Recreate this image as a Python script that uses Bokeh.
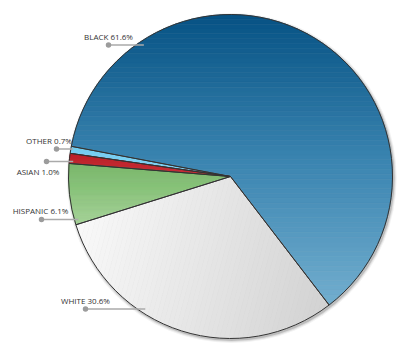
import numpy as np
from bokeh.plotting import figure
from bokeh.models import Range1d, ColumnDataSource
from bokeh.core.properties import value
from bokeh.embed import file_html
from bokeh.resources import INLINE

# ---- data (counter-clockwise order, starting at the Black/White boundary) ----
categories = ["BLACK", "OTHER", "ASIAN", "HISPANIC", "WHITE"]
shares = [61.6, 0.7, 1.0, 6.1, 30.6]

# ---- layout / style ----
W, H = 406, 352
CX, CY, R = 230.0, H - 176.0, 162.0
START_DEG = -52.5

# gradient: (direction angle in degrees, list of colour stops)
gradients = {
    "BLACK": (-90, ["#065284", "#3a84b0", "#72aecf"]),
    "OTHER": (-90, ["#72cdf1", "#86d6f5"]),
    "ASIAN": (-90, ["#bb2228", "#c8313a"]),
    "HISPANIC": (-90, ["#76b767", "#a4d396"]),
    "WHITE": (-15, ["#f9f9f9", "#e6e6e6", "#d2d2d2"]),
}
# label layout in screen pixels: dot x, line y, text centre x, text centre y, line inset
label_layout = {
    "BLACK": (108, 44.5, 108, 35.5, 8),
    "OTHER": (56, 148.5, 48.5, 139.5, 2),
    "ASIAN": (46, 161, 37.5, 170.5, 4),
    "HISPANIC": (41, 219, 40, 209.5, 4),
    "WHITE": (85, 308.5, 85, 299.5, 8),
}


def hex2rgb(h):
    h = h.lstrip("#")
    return np.array([int(h[i:i + 2], 16) for i in (0, 2, 4)], dtype=float)


def lerp_stops(stops, f):
    f = min(max(f, 0.0), 1.0)
    cols = [hex2rgb(s) for s in stops]
    n = len(cols) - 1
    pos = f * n
    i = min(int(pos), n - 1)
    t = pos - i
    c = cols[i] * (1 - t) + cols[i + 1] * t
    return "#%02x%02x%02x" % tuple(int(round(v)) for v in c)


def clip_half(pts, u, t, keep_ge):
    out = []
    n = len(pts)
    for i in range(n):
        P = pts[i]
        Q = pts[(i + 1) % n]
        fp = P[0] * u[0] + P[1] * u[1] - t
        fq = Q[0] * u[0] + Q[1] * u[1] - t
        if not keep_ge:
            fp, fq = -fp, -fq
        if fp >= 0:
            out.append(P)
        if (fp >= 0) != (fq >= 0):
            s = fp / (fp - fq)
            out.append((P[0] + s * (Q[0] - P[0]), P[1] + s * (Q[1] - P[1])))
    return out


fr = np.array(shares) / sum(shares)
ends = START_DEG + np.cumsum(fr) * 360.0
starts = ends - fr * 360.0

p = figure(width=W, height=H, output_backend="svg", toolbar_location=None,
           x_range=Range1d(0, W), y_range=Range1d(0, H),
           x_axis_type=None, y_axis_type=None, min_border=0,
           outline_line_color=None, background_fill_color="white",
           border_fill_color="white")
p.grid.visible = False

# soft shadow
for dr, a in [(3.0, 0.05), (2.0, 0.08), (1.0, 0.15)]:
    p.circle(x=[CX + 1.2], y=[CY - 1.5], radius=R + dr, fill_color="black",
             fill_alpha=a, line_color=None)

# gradient-filled slices made of thin clipped bands
bx, by, bc = [], [], []
for cat, a0, a1 in zip(categories, starts, ends):
    ang = np.radians(np.linspace(a0, a1, max(int((a1 - a0) / 0.5), 2) + 1))
    poly = [(CX, CY)] + [(CX + R * np.cos(t), CY + R * np.sin(t)) for t in ang]
    gdeg, stops = gradients[cat]
    u = (np.cos(np.radians(gdeg)), np.sin(np.radians(gdeg)))
    proj = [q[0] * u[0] + q[1] * u[1] for q in poly]
    tmin, tmax = min(proj), max(proj)
    nb = 60
    edges = np.linspace(tmin, tmax, nb + 1)
    for i in range(nb):
        piece = clip_half(poly, u, edges[i], True)
        if len(piece) < 3:
            continue
        piece = clip_half(piece, u, edges[i + 1], False)
        if len(piece) < 3:
            continue
        col = lerp_stops(stops, (i + 0.5) / nb)
        bx.append([q[0] for q in piece])
        by.append([q[1] for q in piece])
        bc.append(col)

p.patches(xs=bx, ys=by, fill_color=bc, line_color=bc, line_width=0.6)

# slice outlines
src = ColumnDataSource(dict(x=[CX] * len(categories), y=[CY] * len(categories),
                            start=np.radians(starts), end=np.radians(ends)))
p.wedge(x="x", y="y", radius=R, start_angle="start", end_angle="end",
        source=src, fill_alpha=0, line_color="#333333", line_width=1)

# labels with leader lines
lx0, lx1, ly, tx, ty, tt = [], [], [], [], [], []
for cat, s in zip(categories, shares):
    dx, lyy, txx, tyy, inset = label_layout[cat]
    dy = abs((H - lyy) - CY)
    xe = CX - np.sqrt(max(R * R - dy * dy, 0)) + inset
    lx0.append(dx)
    lx1.append(xe)
    ly.append(H - lyy)
    tx.append(txx)
    ty.append(H - tyy)
    tt.append(f"{cat} {s:.1f}%")

p.segment(x0=lx0, y0=ly, x1=lx1, y1=ly, line_color="#aaaaaa", line_width=1.5)
p.scatter(x=lx0, y=ly, size=5.5, marker="circle", fill_color="#9c9c9c",
          line_color=None)
p.text(x=tx, y=ty, text=tt, text_align="center", text_baseline="middle",
       text_font=value("Open Sans"), text_font_size="8px", text_color="#333333")

open("out.html", "w").write(file_html(p, INLINE))
